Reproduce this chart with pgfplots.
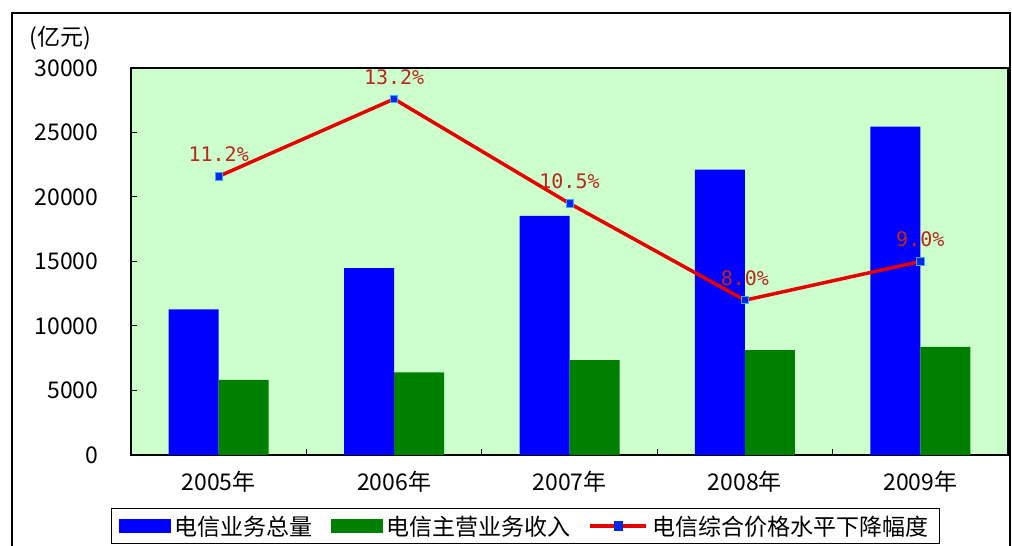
\documentclass[border=0pt]{standalone}
\usepackage{pgfplots}
\pgfplotsset{compat=1.18}
\usepackage{fontspec}
\setmainfont{Noto Sans CJK SC}
\newfontfamily\monofont{DejaVu Sans Mono}
\definecolor{bgGreen}{RGB}{204,255,204}
\definecolor{barBlue}{RGB}{0,0,255}
\definecolor{barGreen}{RGB}{0,128,0}
\definecolor{lineRed}{RGB}{230,0,0}
\definecolor{lblRed}{RGB}{185,40,30}
\definecolor{mkBlue}{RGB}{0,40,230}
\definecolor{mkEdge}{RGB}{60,170,255}
\begin{document}
\begin{tikzpicture}[font=\fontsize{23}{27}\selectfont]
% outer frame
\fill[white] (-131pt,-91pt) rectangle (881pt,455pt);
\draw[black, line width=1.3pt] (-119pt,-100pt) rectangle (879pt,442pt);
\begin{axis}[
  at={(0pt,0pt)}, anchor=south west,
  scale only axis, width=877pt, height=387pt,
  xmin=-0.5, xmax=4.5, ymin=0, ymax=30000,
  axis background/.style={fill=bgGreen},
  axis line style={black, line width=1.2pt},
  ybar=0pt, bar width=50pt,
  xtick={0,1,2,3,4},
  xticklabels={2005年,2006年,2007年,2008年,2009年},
  minor xtick={0.5,1.5,2.5,3.5},
  major x tick style={draw=none},
  minor tick length=6pt, major tick length=6pt,
  tick align=inside, xtick pos=bottom, ytick pos=left,
  tick style={black, line width=1pt},
  ytick={0,5000,...,30000},
  scaled y ticks=false,
  /pgf/number format/assume math mode=true,
  /pgf/number format/1000 sep={},
  yticklabel style={anchor=east, xshift=-29pt},
  xticklabel style={anchor=center, yshift=-27pt},
  legend columns=3,
  legend style={at={(-0.0228,-0.137)}, anchor=north west, draw=black,
    line width=1.2pt, fill=white, inner xsep=7pt, inner ysep=3pt,
    nodes={inner sep=4pt, font=\fontsize{23}{27}\selectfont},
    /tikz/every even column/.append style={column sep=14pt}},
  clip=false,
]
\addplot[fill=barBlue, draw=none,
  legend image code/.code={\fill[barBlue] (0pt,-7pt) rectangle (52pt,7pt);}]
  coordinates {(0,11290) (1,14480) (2,18540) (3,22130) (4,25460)};
\addlegendentry{电信业务总量}
\addplot[fill=barGreen, draw=none,
  legend image code/.code={\fill[barGreen] (0pt,-7pt) rectangle (52pt,7pt);}]
  coordinates {(0,5820) (1,6410) (2,7360) (3,8130) (4,8385)};
\addlegendentry{电信主营业务收入}
\addlegendimage{legend image code/.code={
  \draw[lineRed, line width=3.5pt] (0pt,0pt) -- (56pt,0pt);
  \fill[mkBlue] (24pt,-4pt) rectangle (32pt,4pt);}}
\addlegendentry{电信综合价格水平下降幅度}
\end{axis}
\begin{axis}[
  at={(0pt,0pt)}, anchor=south west,
  scale only axis, width=877pt, height=387pt,
  xmin=-0.5, xmax=4.5, ymin=4, ymax=14,
  hide axis, clip=false,
]
\addplot[lineRed, line width=3.5pt, mark=square*, mark size=3.6pt,
  mark options={fill=mkBlue, draw=mkEdge, line width=0.8pt},
  nodes near coords={\pgfmathprintnumber[fixed,precision=1,fixed zerofill,assume math mode=true]{\pgfplotspointmeta}\%},
  nodes near coords style={anchor=center, yshift=22pt, text=lblRed,
    font=\fontsize{20}{24}\monofont},
  point meta=y]
  coordinates {(0,11.2) (1,13.2) (2,10.5) (3,8.0) (4,9.0)};
\end{axis}
\node[anchor=east] at (-36pt,417pt) {(亿元)};
\pgfresetboundingbox
\path[use as bounding box] (-131pt,-91pt) rectangle (881pt,455pt);
\end{tikzpicture}
\end{document}
